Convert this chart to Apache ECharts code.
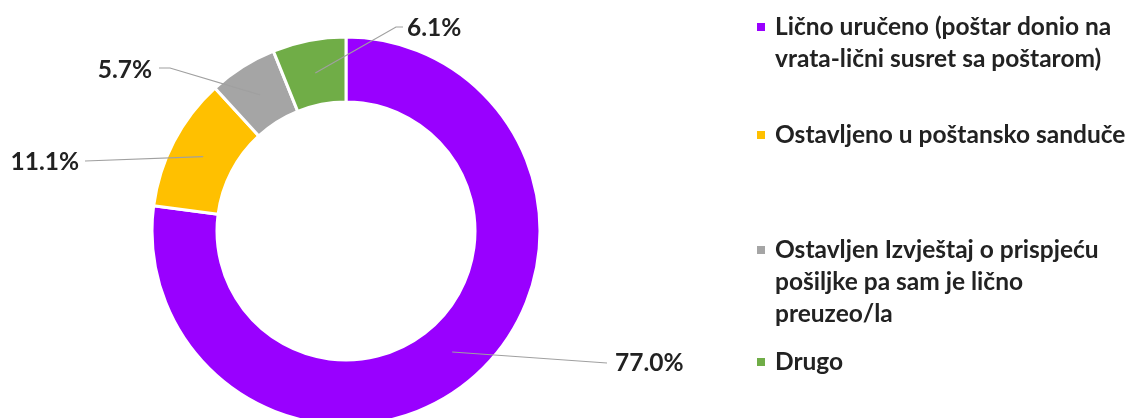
<!DOCTYPE html>
<html>
<head>
<meta charset="utf-8">
<script src="https://cdn.jsdelivr.net/npm/echarts@6/dist/echarts.min.js"></script>
<style>
  html, body { margin: 0; padding: 0; background: #ffffff; }
  #chart { width: 1134px; height: 418px; }
</style>
</head>
<body>
<div id="chart"></div>
<script>
// ---- data ----
const categories = [
  'Lično uručeno (poštar donio na vrata-lični susret sa poštarom)',
  'Ostavljeno u poštansko sanduče',
  'Ostavljen Izvještaj o prispjeću pošiljke pa sam je lično preuzeo/la',
  'Drugo'
];
const legendLines = [
  ['Lično uručeno (poštar donio na', 'vrata-lični susret sa poštarom)'],
  ['Ostavljeno u poštansko sanduče'],
  ['Ostavljen Izvještaj o prispjeću', 'pošiljke pa sam je lično', 'preuzeo/la'],
  ['Drugo']
];
const values = [77.0, 11.1, 5.7, 6.1];

// ---- styles / layout ----
const colors = ['#9900FF', '#FFC000', '#A5A5A5', '#70AD47'];
const FONT = 'Lato, "Open Sans", sans-serif';
const textColor = '#222222';
const center = [346, 231];
const ringMid = 161, outerR = 194, innerR = 129;

// fit font size so the legend text width matches the reference (~351px)
function fitSize(text, targetW) {
  const c = document.createElement('canvas').getContext('2d');
  c.font = 'bold 100px ' + FONT;
  return Math.round(100 * targetW / c.measureText(text).width * 10) / 10;
}
const FS = fitSize('Ostavljeno u poštansko sanduče', 351);

// label anchors (text position) and line elbows
const labelAnchors = [
  { x: 615, y: 363, align: 'left',  pts: [[607, 363]] },
  { x: 79,  y: 162, align: 'right', pts: [[85, 161]] },
  { x: 152, y: 70,  align: 'right', pts: [[170, 68], [159, 68]] },
  { x: 407, y: 28,  align: 'left',  pts: [[396, 27], [403, 27]] }
];
const legendTops = [11, 119, 234, 346];

const chart = echarts.init(document.getElementById('chart'), null, { renderer: 'canvas' });

const legends = categories.map((name, i) => {
  const rich = {
    m: { width: 8, height: 8, backgroundColor: colors[i] },
    s: { width: 10 },
    p: { width: 18 },
    t: { fontSize: FS, fontWeight: 'bold', fontFamily: FONT, color: textColor, lineHeight: 32 }
  };
  return {
    data: [name],
    orient: 'vertical',
    left: 751,
    top: legendTops[i],
    padding: 0,
    itemWidth: 0,
    itemHeight: 0,
    selectedMode: false,
    icon: 'rect',
    textStyle: { fontSize: FS, fontWeight: 'bold', fontFamily: FONT, color: textColor, lineHeight: 32, rich: rich },
    formatter: function () {
      return legendLines[i].map((ln, k) =>
        (k === 0 ? '{m|}{s|}' : '{p|}') + '{t|' + ln + '}'
      ).join('\n');
    }
  };
});

const pieData = categories.map((c, i) => ({ name: c, value: values[i] }));

chart.setOption({
  backgroundColor: '#ffffff',
  animation: false,
  color: colors,
  legend: legends,
  series: [{
    type: 'pie',
    z: 2,
    center: center,
    radius: [innerR, outerR],
    startAngle: 90,
    clockwise: true,
    itemStyle: { borderColor: '#ffffff', borderWidth: 3 },
    emphasis: { disabled: true },
    label: { show: false },
    labelLine: { show: false },
    data: pieData
  }, {
    // transparent overlay: carries the value labels and their leader lines
    type: 'pie',
    z: 5,
    silent: true,
    center: center,
    radius: [0, ringMid],
    startAngle: 90,
    clockwise: true,
    avoidLabelOverlap: false,
    legendHoverLink: false,
    itemStyle: { color: 'rgba(0,0,0,0)', borderWidth: 0 },
    emphasis: { disabled: true },
    label: {
      show: true,
      position: 'outside',
      formatter: p => values[p.dataIndex].toFixed(1) + '%',
      fontSize: FS,
      fontWeight: 'bold',
      fontFamily: FONT,
      color: textColor
    },
    labelLine: {
      show: true,
      length: 10,
      length2: 10,
      lineStyle: { color: '#a0a0a0', width: 1.2 }
    },
    labelLayout: function (p) {
      const a = labelAnchors[p.dataIndex];
      const pts = [p.labelLinePoints[0].slice()].concat(a.pts);
      while (pts.length < 3) pts.push(pts[pts.length - 1].slice());
      return {
        x: a.x, y: a.y, align: a.align, verticalAlign: 'middle',
        labelLinePoints: pts
      };
    },
    data: pieData
  }]
});
</script>
</body>
</html>
